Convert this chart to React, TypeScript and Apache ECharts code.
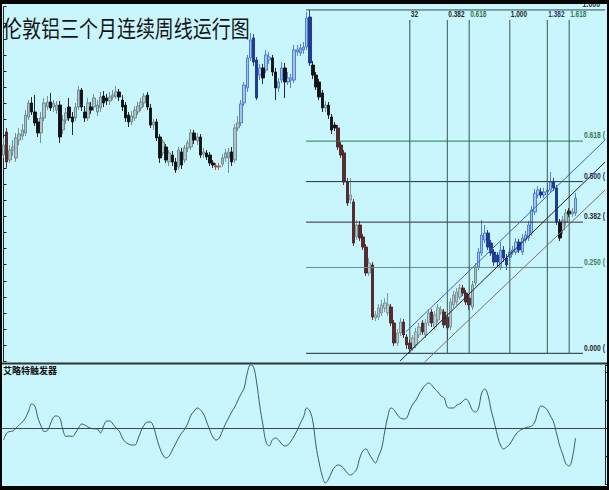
import React, { useEffect, useRef } from 'react';
import * as echarts from 'echarts';

const TITLE = '伦敦铝三个月连续周线运行图';
const OSC_TITLE = '艾略特触发器';

// weekly candles: [open, close, low, high]
const candles: number[][] = [
  [2480,2542,2462,2586],[2623,2437,2400,2648],[2449,2511,2431,2542],[2511,2530,2474,2573],[2462,2586,2437,2617],
  [2573,2610,2542,2648],[2598,2635,2573,2673],[2617,2728,2598,2759],[2716,2803,2697,2821],[2803,2747,2728,2840],
  [2747,2679,2660,2852],[2685,2617,2592,2710],[2617,2710,2555,2747],[2710,2803,2691,2834],[2778,2809,2759,2846],
  [2809,2772,2753,2865],[2778,2803,2747,2821],[2759,2790,2735,2815],[2790,2592,2555,2815],[2635,2697,2610,2728],
  [2697,2741,2673,2772],[2778,2710,2691,2834],[2716,2685,2604,2747],[2710,2778,2691,2803],[2778,2883,2759,2908],
  [2883,2778,2753,2896],[2747,2710,2685,2784],[2710,2803,2691,2834],[2778,2759,2735,2809],[2778,2834,2753,2859],
  [2747,2790,2722,2821],[2772,2840,2747,2871],[2846,2803,2778,2877],[2834,2815,2790,2859],[2815,2840,2790,2871],
  [2840,2852,2821,2883],[2846,2871,2828,2908],[2871,2840,2815,2890],[2821,2778,2753,2852],[2790,2710,2685,2809],
  [2728,2685,2654,2747],[2685,2722,2666,2753],[2710,2759,2691,2784],[2747,2784,2728,2809],[2772,2809,2753,2834],
  [2803,2846,2778,2865],[2852,2778,2759,2871],[2772,2666,2648,2797],[2666,2685,2635,2704],[2685,2586,2567,2704],
  [2592,2462,2431,2610],[2493,2561,2474,2579],[2530,2449,2431,2548],[2437,2493,2412,2511],[2480,2437,2412,2505],
  [2437,2387,2369,2462],[2406,2511,2387,2530],[2499,2418,2393,2524],[2449,2524,2431,2542],[2524,2555,2499,2573],
  [2530,2617,2511,2641],[2617,2573,2548,2635],[2567,2592,2542,2617],[2592,2480,2462,2610],[2486,2499,2462,2524],
  [2493,2468,2449,2511],[2480,2431,2412,2499],[2431,2418,2400,2449],[2412,2406,2387,2431],[2406,2412,2387,2431],
  [2424,2462,2406,2486],[2462,2493,2437,2517],[2462,2499,2369,2524],[2499,2437,2412,2530],[2449,2648,2431,2673],
  [2648,2679,2629,2722],[2679,2797,2660,2821],[2803,2914,2784,2933],[2896,3082,2871,3101],[3082,3194,3063,3237],
  [3206,3057,3032,3231],[3070,2834,2821,3088],[2976,3020,2945,3045],[3020,2958,2921,3045],[3007,3101,2989,3132],
  [3070,3088,3045,3119],[3082,2995,2970,3101],[2995,2896,2821,3020],[2896,2933,2871,2958],[2945,3020,2927,3057],
  [3020,2933,2834,3051],[2933,2958,2914,2995],[2945,2958,2896,2983],[2945,3132,2927,3163],[3119,3132,3094,3163],
  [3113,3144,3094,3169],[3132,3150,3107,3181],[3150,3330,3132,3367],[3336,3051,3032,3380],[3038,2976,2952,3063],
  [2976,2902,2883,2995],[2933,2840,2821,2952],[2865,2772,2747,2883],[2772,2790,2747,2815],[2790,2728,2704,2809],
  [2716,2635,2610,2735],[2666,2648,2629,2685],[2648,2530,2511,2666],[2542,2480,2462,2561],[2493,2313,2294,2511],
  [2313,2182,2164,2338],[2201,2232,2176,2338],[2189,1934,1916,2207],[1972,2046,1953,2077],[2046,1965,1947,2071],
  [1972,1909,1891,1990],[1909,1748,1730,1928],[1748,1810,1730,1841],[1798,1475,1457,1816],[1469,1488,1450,1512],
  [1475,1531,1457,1556],[1500,1550,1481,1581],[1531,1562,1506,1593],[1500,1550,1481,1624],[1537,1438,1419,1556],
  [1438,1314,1295,1457],[1314,1376,1295,1401],[1376,1444,1357,1469],[1444,1364,1345,1463],[1351,1302,1277,1370],
  [1314,1277,1250,1333],[1283,1345,1264,1364],[1302,1382,1283,1407],[1364,1413,1345,1438],[1438,1382,1364,1457],
  [1364,1438,1345,1463],[1438,1500,1419,1525],[1506,1438,1413,1525],[1413,1488,1395,1512],[1457,1531,1438,1556],
  [1506,1519,1488,1543],[1506,1426,1407,1525],[1475,1407,1333,1494],[1413,1568,1395,1593],[1550,1612,1531,1636],
  [1568,1630,1550,1655],[1599,1655,1581,1680],[1655,1624,1606,1674],[1624,1568,1550,1643],[1593,1550,1519,1612],
  [1537,1674,1519,1699],[1686,1785,1668,1810],[1785,1878,1767,1903],[1872,1984,1854,2077],[1953,1996,1934,2046],
  [1996,1909,1891,2015],[1934,1872,1854,1953],[1878,1816,1792,1897],[1860,1816,1792,1878],[1785,1891,1767,1940],
  [1891,1841,1816,1916],[1841,1798,1767,1866],[1847,1878,1823,1903],[1878,1891,1860,1916],[1878,1940,1860,1965],
  [1940,1891,1872,1959],[1878,1965,1860,1990],[1953,1984,1934,2009],[1965,2046,1947,2071],[1996,2139,1978,2164],
  [2127,2244,2108,2269],[2232,2263,2213,2288],[2251,2232,2213,2276],[2232,2251,2213,2276],[2251,2263,2232,2294],
  [2263,2313,2244,2375],[2313,2276,2257,2338],[2276,2065,2046,2294],[2065,1965,1947,2083],[2015,2077,1990,2102],
  [2065,2120,2040,2145],[2133,2114,2096,2151],[2114,2127,2096,2151],[2120,2213,2102,2244]
];

// Elliott trigger oscillator, one value per week
const oscillator: number[] = [
  -12,-5,-3.5,-3,0,3,6,10,17,24, 22,10,2,-3.5,-2.5,4,11,12,10,-2,
  -8.5,-8,-8.5,-5,0,4,3,1,-0.3,-0.8, -1,-5,2,7,7,4,0,-3,-10,-14,
  -16,-17,-17,-11,-3,3,6,6,1,-10, -20,-27,-30,-28,-22,-16,-10,-5,-1,5,
  13,17,20,18,14,6,-2,-9,-12,-10, -3,4,10,16,21,28,34,40,55,63,
  61,45,22,3,-14,-18,-12,-10,-12,-16, -18,-17,-13,-8,-2,5,11,20,17,6,
  -18,-35,-48,-55,-51,-44,-39,-37,-38,-41, -45,-47,-45,-41,-30,-23,-21,-26,-31,-35,
  -28,-20,-3,12,20,18,13,10,9,10, 18,24,28,34,39,43,45,43,39,36,
  32,30,21,20,20,23,24,27,29,25, 18,16,20,35,39,33,18,6,-7,-17,
  -21,-19,-16,-11,-6,-3,-1,0.3,1,2, 6,16,22,21,18,12,6,-6,-18,-27,
  -36,-38,-30,-10
];

const SLOT_COUNT = 193; // weekly slots on the time axis (incl. empty future weeks)
const weekSlots = Array.from({ length: SLOT_COUNT }, (_, i) => String(i));

// Fibonacci retracement of the swing high (week 98) to swing low (week 130)
const fibHigh = 3380;
const fibLow = 1250;
const fibLevels = [1, 0.618, 0.5, 0.382, 0.25, 0];
const fibLabels = ['1.000', '0.618 (', '0.500 (', '0.382 (', '0.250 (', '0.000 ('];
const fibColors = ['#3b4848', '#2e7a4c', '#252c44', '#352b3a', '#5f9484', '#1f2a30'];
const fibLabelColors = ['#2a3838', '#2e7a4c', '#26305a', '#2a2a3a', '#3f8060', '#1f2a30'];
const fibStart = 96.8;
const fibEnd = 185.4;

// Fibonacci time zones counted from the low (32 weeks high-to-low)
const timeZoneWeeks = [130, 142, 149, 162, 174, 181];
const timeZoneLabels = ['32', '0.382', '0.618', '1.000', '1.382', '1.618'];
const timeZoneLabelColors = ['#1d2a2a', '#1d2a2a', '#2e7a4c', '#1d2a2a', '#2a3a6a', '#2e7a4c'];
const timeZoneTop = 3318;
const timeZoneLabelPrice = 3355;

// trend channel: [startWeek, startPrice, endWeek, endPrice]
const channelUpper = [128.8, 1384, 192.5, 2573];
const channelMiddle = [126.9, 1203, 192.5, 2437];
const channelLower = [134.5, 1191, 192.5, 2263];

const toneSegments: [number, number, string][] = [
  [0, 0, 'grey'], [1, 1, 'maroon'], [2, 67, 'grey'], [68, 69, 'red'], [70, 75, 'grey'],
  [76, 81, 'blue'], [82, 97, 'blueBlack'], [98, 98, 'blue'], [99, 106, 'grey'],
  [107, 149, 'maroon'], [150, 151, 'grey'], [152, 177, 'blue'], [178, 182, 'grey'], [183, 183, 'blue']
];

const tones: Record<string, { up: string; upB: string; down: string; downB: string }> = {
  grey: { up: '#aac6c9', upB: '#6b8589', down: '#101214', downB: '#101214' },
  maroon: { up: '#b3cdd0', upB: '#768e92', down: '#5a2a2c', downB: '#4a2224' },
  red: { up: '#d09a9a', upB: '#b05050', down: '#b04848', downB: '#a04040' },
  blue: { up: '#a2c4ec', upB: '#4676c8', down: '#1d3a96', downB: '#1a3488' },
  blueBlack: { up: '#a2c4ec', upB: '#4676c8', down: '#101214', downB: '#101214' }
};

function toneName(i: number) {
  for (const s of toneSegments) if (i >= s[0] && i <= s[1]) return s[2];
  return 'grey';
}

const LABEL_FONT = 'bold 9px "Liberation Sans", Arial, sans-serif';

export default function App() {
  const ref = useRef<HTMLDivElement>(null);
  useEffect(() => {
    const chart = echarts.init(ref.current!, undefined, { renderer: 'svg' });

    const candleSeries: any[] = [];
    Object.keys(tones).forEach((t) => {
      (['up', 'down'] as const).forEach((dir) => {
        const data = candles.map((c, i) =>
          toneName(i) === t && ((c[1] >= c[0]) === (dir === 'up')) ? c : '-'
        );
        if (data.every((d) => d === '-')) return;
        const tone = tones[t];
        const fill = dir === 'up' ? tone.up : tone.down;
        const border = dir === 'up' ? tone.upB : tone.downB;
        candleSeries.push({
          type: 'candlestick', xAxisIndex: 0, yAxisIndex: 0, barWidth: 2.9, z: 3, silent: true,
          itemStyle: { color: fill, color0: fill, borderColor: border, borderColor0: border, borderColorDoji: border, borderWidth: 0.9 },
          data
        });
      });
    });

    const fibSeries = fibLevels.map((f, k) => {
      const p = fibLow + f * (fibHigh - fibLow);
      return {
        type: 'line', xAxisIndex: 1, yAxisIndex: 0, symbol: 'none', silent: true, z: 4,
        data: [[fibStart, p], [k === 0 ? SLOT_COUNT - 0.5 : fibEnd, p]],
        lineStyle: { color: fibColors[k], width: 1 }
      };
    });

    const zoneSeries = timeZoneWeeks.map((w) => ({
      type: 'line', xAxisIndex: 1, yAxisIndex: 0, symbol: 'none', silent: true, z: 4,
      data: [[w, fibLow], [w, timeZoneTop]],
      lineStyle: { color: '#38564f', width: 1 }
    }));

    const chan = (c: number[], color: string) => ({
      type: 'line', xAxisIndex: 1, yAxisIndex: 0, symbol: 'none', silent: true, z: 5,
      data: [[c[0], c[1]], [c[2], c[3]]],
      lineStyle: { color, width: 1 }
    });

    const staticGraphics: any[] = [
      { type: 'text', left: 3, top: 16, z: 50, scaleY: 1.2, style: { text: TITLE, fill: '#151515', font: '19px "Noto Sans CJK SC", sans-serif' } },
      { type: 'text', left: 3, top: 366, z: 50, style: { text: OSC_TITLE, fill: '#111', font: 'bold 9px "Noto Sans CJK SC", sans-serif' } },
      { type: 'rect', left: 0, top: 362.5, z: 60, shape: { width: 609, height: 2 }, style: { fill: '#2b3535' } },
      { type: 'rect', left: 0, top: 0, z: 60, shape: { width: 609, height: 4 }, style: { fill: '#050505' } },
      { type: 'rect', left: 0, top: 486, z: 60, shape: { width: 609, height: 4 }, style: { fill: '#050505' } },
      { type: 'rect', left: 0, top: 0, z: 60, shape: { width: 2, height: 490 }, style: { fill: '#050505' } },
      { type: 'rect', left: 607, top: 0, z: 60, shape: { width: 2, height: 490 }, style: { fill: '#050505' } }
    ];

    const option: any = {
      animation: false,
      backgroundColor: '#c8f6fc',
      grid: [
        { left: 2, top: 6.72, width: 603.125, height: 354.64 },
        { left: 2, top: 365, width: 603.125, height: 119 }
      ],
      xAxis: [
        { type: 'category', gridIndex: 0, data: weekSlots, boundaryGap: true, axisLine: { show: false }, axisTick: { show: false }, axisLabel: { show: false }, splitLine: { show: false } },
        { type: 'value', gridIndex: 0, min: -0.5, max: SLOT_COUNT - 0.5, show: false },
        { type: 'category', gridIndex: 1, data: weekSlots, boundaryGap: true, axisLine: { show: false }, axisTick: { show: false }, axisLabel: { show: false }, splitLine: { show: false } }
      ],
      yAxis: [
        { type: 'value', gridIndex: 0, position: 'right', min: 1200, max: 3400, interval: 100,
          axisLine: { show: true, lineStyle: { color: '#1c2626' } }, axisTick: { show: true, length: 3, lineStyle: { color: '#1c2626' } },
          axisLabel: { show: false }, splitLine: { show: false } },
        { type: 'value', gridIndex: 1, position: 'right', min: -56, max: 63, interval: 28,
          axisLine: { show: true, lineStyle: { color: '#1c2626' } }, axisTick: { show: true, length: 3, lineStyle: { color: '#1c2626' } },
          axisLabel: { show: false }, splitLine: { show: false } }
      ],
      series: [
        ...candleSeries,
        ...fibSeries,
        ...zoneSeries,
        chan(channelUpper, '#3d62c4'),
        chan(channelMiddle, '#1e2222'),
        chan(channelLower, '#7e6e6e'),
        {
          type: 'line', xAxisIndex: 2, yAxisIndex: 1, data: oscillator, symbol: 'none', smooth: 0.4, silent: true,
          lineStyle: { color: '#3e5878', width: 1 },
          markLine: { symbol: 'none', silent: true, label: { show: false }, lineStyle: { color: '#3a4a4e', width: 1, type: 'solid' }, data: [{ yAxis: 0 }] }
        }
      ],
      graphic: staticGraphics
    };
    chart.setOption(option);

    // place the condensed level / time-zone labels through the chart's own scales
    const toPx = (x: number, y: number) => chart.convertToPixel({ xAxisIndex: 1, yAxisIndex: 0 }, [x, y]) as number[];
    const labelGraphics: any[] = [];
    fibLevels.forEach((f, k) => {
      const p = fibLow + f * (fibHigh - fibLow);
      if (k === 0) {
        const pt = toPx(SLOT_COUNT - 0.5, p);
        labelGraphics.push({ type: 'text', x: pt[0] - 5, y: pt[1] - 1, scaleX: 0.78, z: 40,
          style: { text: fibLabels[k], fill: fibLabelColors[k], font: LABEL_FONT, align: 'right', verticalAlign: 'bottom' } });
      } else {
        const pt = toPx(fibEnd, p);
        labelGraphics.push({ type: 'text', x: pt[0] + 1, y: pt[1] - 1, scaleX: 0.75, z: 40,
          style: { text: fibLabels[k], fill: fibLabelColors[k], font: LABEL_FONT, align: 'left', verticalAlign: 'bottom' } });
      }
    });
    timeZoneWeeks.forEach((w, k) => {
      const pt = toPx(w, timeZoneLabelPrice);
      labelGraphics.push({ type: 'text', x: pt[0] + 1, y: pt[1], scaleX: 0.72, z: 40,
        style: { text: timeZoneLabels[k], fill: timeZoneLabelColors[k], font: LABEL_FONT, align: 'left', verticalAlign: 'middle' } });
    });
    chart.setOption({ graphic: [...staticGraphics, ...labelGraphics] });

    return () => chart.dispose();
  }, []);
  return <div ref={ref} style={{ position: 'fixed', left: 0, top: 0, width: 609, height: 490 }} />;
}
